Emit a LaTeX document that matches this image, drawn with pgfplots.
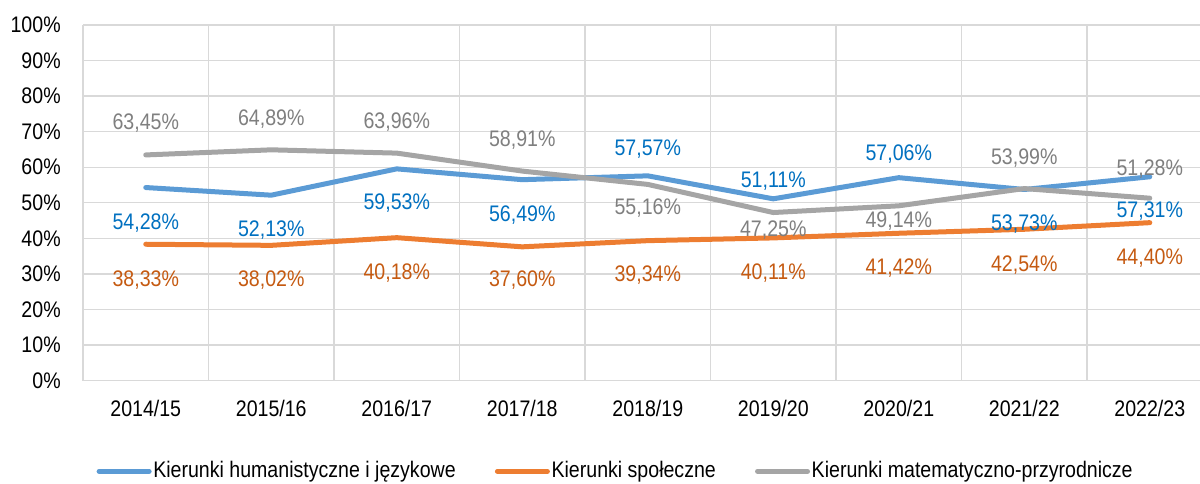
\documentclass[border=0pt]{standalone}
\usepackage{fontspec}
\setmainfont{Liberation Sans}[FakeStretch=0.87]
\usepackage{pgfplots}
\pgfplotsset{compat=1.18}
\usepackage{pgfplotstable}
\definecolor{cblue}{RGB}{91,155,213}
\definecolor{corange}{RGB}{237,125,49}
\definecolor{cgray}{RGB}{165,165,165}
\definecolor{tblue}{RGB}{0,112,192}
\definecolor{torange}{RGB}{197,90,17}
\definecolor{tgray}{RGB}{127,127,127}
\definecolor{gridc}{RGB}{217,217,217}

\pgfplotstableread{
x y off
0 54.28 -20.4
1 52.13 -19.8
2 59.53 -19.8
3 56.49 -20.1
4 57.57 16.8
5 51.11 11.4
6 57.06 14.8
7 53.73 -20.1
8 57.31 -19.8
}\humanist
\pgfplotstableread{
x y off
0 38.33 -20.4
1 38.02 -19.8
2 40.18 -20.4
3 37.60 -19.2
4 39.34 -19.6
5 40.11 -20.2
6 41.42 -19.8
7 42.54 -20.4
8 44.40 -20.4
}\spol
\pgfplotstableread{
x y off
0 63.45 19.8
1 64.89 19.1
2 63.96 19.2
3 58.91 19.2
4 55.16 -13.2
5 47.25 -9.6
6 49.14 -8.4
7 53.99 19.2
8 51.28 18.6
}\matprz

\pgfplotsset{
  lbl/.style={
    nodes near coords={\pgfmathprintnumber[fixed,fixed zerofill,precision=2,use comma]{\pgfplotspointmeta}\%},
    point meta=y,
    visualization depends on={\thisrow{off} \as \myoff},
    every node near coord/.append style={anchor=center, inner sep=0pt, text depth=0pt, yshift=\myoff, text=#1},
  },
}

\begin{document}
\fontsize{13.5}{16}\selectfont
\begin{tikzpicture}
\useasboundingbox (-49.8pt,-61.5pt) rectangle (670.2pt,228.3pt);
\begin{axis}[
  at={(0,0)}, anchor=south west,
  scale only axis,
  width=670.2pt, height=213.3pt,
  xmin=-0.5, xmax=8.4,
  ymin=0, ymax=100,
  axis line style={draw=none},
  xtick={0,...,8},
  xticklabels={2014/15,2015/16,2016/17,2017/18,2018/19,2019/20,2020/21,2021/22,2022/23},
  minor xtick={-0.5,0.5,...,7.5},
  ytick={0,10,...,100},
  yticklabel={\pgfmathprintnumber{\tick}\%},
  /pgf/number format/assume math mode=true,
  major tick length=0pt, minor tick length=0pt,
  ymajorgrids, xminorgrids,
  grid style={draw=gridc, line width=0.8pt},
  minor grid style={draw=gridc, line width=0.8pt},
  xticklabel style={anchor=north, inner sep=0pt, yshift=-11.5pt, text=black},
  yticklabel style={anchor=east, inner sep=0pt, xshift=-13.2pt, text=black},
  clip=false,
  legend columns=3,
  legend style={at={(0.4767,-0.2555)}, anchor=center, draw=none, fill=none,
    inner sep=0pt, nodes={inner sep=1pt},
    /tikz/every even column/.append style={column sep=22.5pt}},
  legend cell align=left,
  legend image code/.code={\draw[#1, line width=3pt, line cap=round] (1.5pt,0pt) -- (31.5pt,0pt);},
]
\addplot[cblue, line width=3pt, line join=round, line cap=round, lbl=tblue] table[x=x,y=y] {\humanist};
\addlegendentry{Kierunki humanistyczne i językowe}
\addplot[corange, line width=3pt, line join=round, line cap=round, lbl=torange] table[x=x,y=y] {\spol};
\addlegendentry{Kierunki społeczne}
\addplot[cgray, line width=3pt, line join=round, line cap=round, lbl=tgray] table[x=x,y=y] {\matprz};
\addlegendentry{Kierunki matematyczno-przyrodnicze}
\end{axis}
\end{tikzpicture}
\end{document}
